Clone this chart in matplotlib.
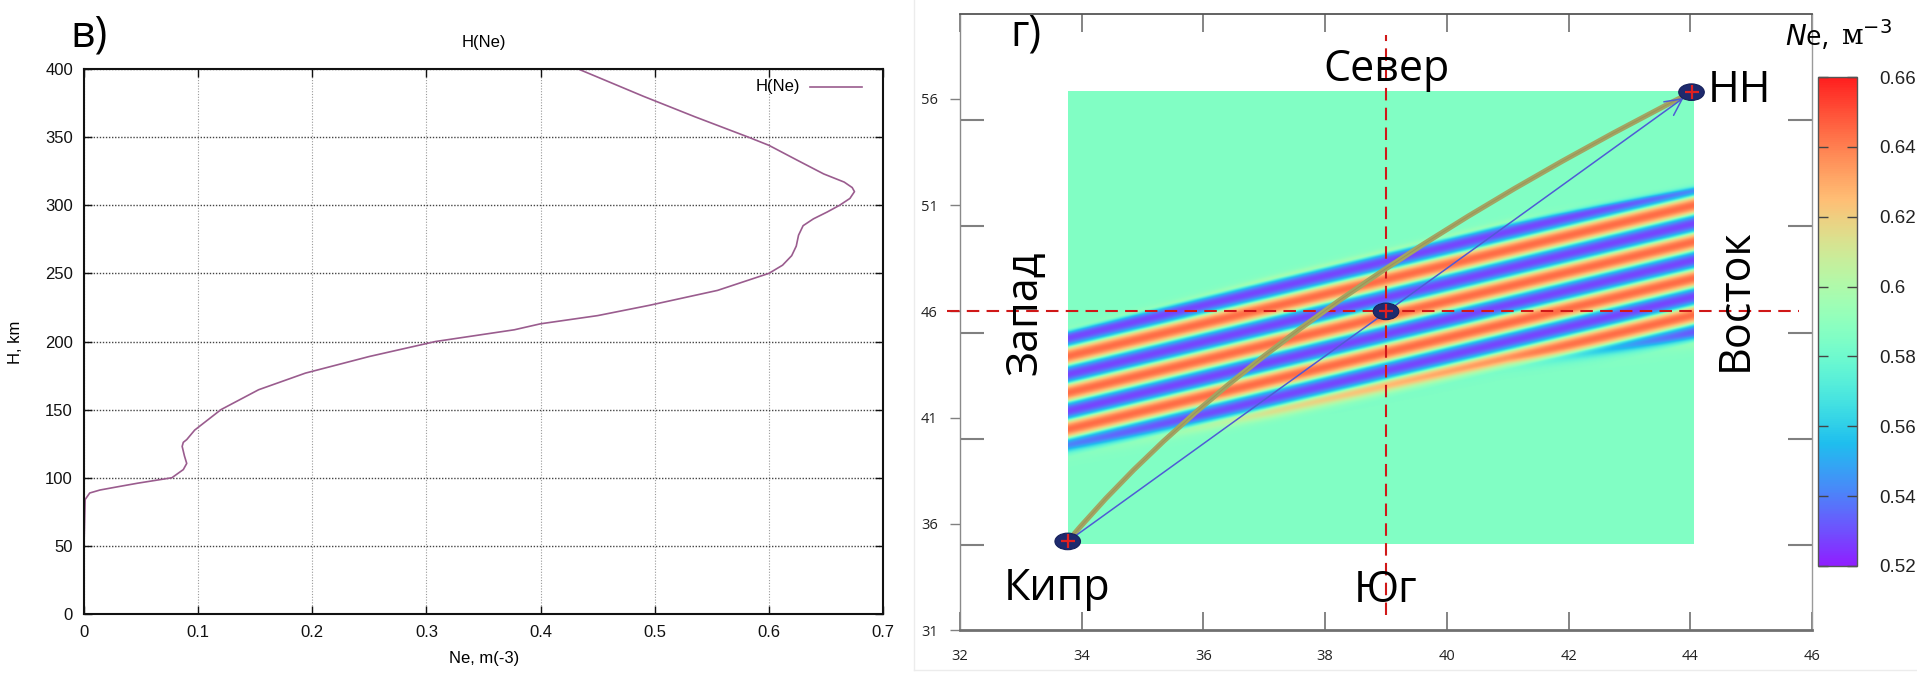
import numpy as np
import matplotlib
matplotlib.use('Agg')
import matplotlib.pyplot as plt
from matplotlib.colors import ListedColormap
from matplotlib.patches import Ellipse, PathPatch
from matplotlib.path import Path
from matplotlib.lines import Line2D
from matplotlib.ticker import FixedLocator

plt.rcParams['font.family'] = ['Open Sans', 'DejaVu Sans']
plt.rcParams['mathtext.fontset'] = 'dejavusans'

# ---------------- panel "в)" : H(Ne) profile ----------------
ne_profile = [0.0, 0.0, 0.001, 0.005, 0.014, 0.031, 0.047, 0.077, 0.082, 0.087,
              0.090, 0.088, 0.086, 0.087, 0.090, 0.097, 0.120, 0.153, 0.194, 0.250,
              0.308, 0.377, 0.400, 0.450, 0.495, 0.555, 0.600, 0.612, 0.620, 0.624,
              0.626, 0.630, 0.639, 0.651, 0.662, 0.671, 0.675, 0.673, 0.666, 0.648,
              0.625, 0.600, 0.582, 0.535, 0.490, 0.433]
h_profile = [0, 50, 84, 88.8, 91, 93.6, 96, 100, 103, 106,
             110.5, 116, 123, 126, 128, 135, 150, 164.6, 176.8, 189,
             200, 208.6, 213, 219, 226.5, 237.5, 250, 256, 263, 270,
             278, 285, 290, 295, 300, 305, 310, 313, 317, 323,
             333, 344, 350, 365, 380, 400]
ne_ticks = [0, 0.1, 0.2, 0.3, 0.4, 0.5, 0.6, 0.7]
ne_tick_labels = ['0', '0.1', '0.2', '0.3', '0.4', '0.5', '0.6', '0.7']
h_ticks = [0, 50, 100, 150, 200, 250, 300, 350, 400]

# ---------------- panel "г)" : Ne map ----------------
lon_ticks = [32, 34, 36, 38, 40, 42, 44, 46]
lat_label_ticks = [31, 36, 41, 46, 51, 56]
lat_inner_ticks = [35, 40, 45, 50, 55]
field_lon = [33.77, 44.05]
field_lat = [35.06, 56.36]
ne_background = 0.586
ne_amplitude = 0.058
stripe_slope = 0.69
stripe_period = 1.72
stripe_crest = 43.9
envelope_lon = [33.77, 37.1, 41.0, 44.05]
envelope_top = [45.1, 45.25, 45.2, 44.7]
envelope_bottom = [39.5, 38.9, 38.55, 37.55]
site_names = ['Кипр', 'НН']
site_lon = [33.77, 44.02]
site_lat = [35.17, 56.32]
center_lon = 39.0
center_lat = 46.0
# great-circle path: start, Bezier control point, end
path_lon = [33.77, 36.93, 44.02]
path_lat = [35.17, 45.98, 56.32]
cbar_ticks = [0.52, 0.54, 0.56, 0.58, 0.60, 0.62, 0.64, 0.66]
cbar_labels = ['0.52', '0.54', '0.56', '0.58', '0.6', '0.62', '0.64', '0.66']

W, H = 1917, 673
fig = plt.figure(figsize=(W / 100, H / 100), dpi=100)


def fx(px):
    return px / W


def fy(py):
    return 1 - py / H


# ================= left panel =================
axL = fig.add_axes([fx(84), fy(614), fx(883) - fx(84), fy(69) - fy(614)])
curve_color = '#9A5C8E'
axL.plot(ne_profile, h_profile, color=curve_color, lw=1.2)
axL.set_xlim(0, 0.7)
axL.set_ylim(0, 400)
axL.set_xticks(ne_ticks)
axL.set_xticklabels(ne_tick_labels)
axL.set_yticks(h_ticks)
for s in axL.spines.values():
    s.set_linewidth(1.5)
    s.set_color('#111111')
axL.tick_params(direction='in', length=6, width=1, top=True, right=True,
                labelsize=12, pad=8, colors='#111111')
for lab in axL.get_xticklabels() + axL.get_yticklabels():
    lab.set_family('Liberation Sans')
axL.xaxis.grid(True, color='#9a9a9a', lw=0.8, linestyle=(0, (1, 1.5)))
axL.yaxis.grid(True, color='#444444', lw=1.0, linestyle=(0, (1, 1.2)))
axL.set_axisbelow(True)
fig.text(fx(484), fy(659), 'Ne, m(-3)', ha='center', va='center',
         fontsize=12, family='Liberation Sans')
fig.text(fx(15), fy(342), 'H, km', ha='center', va='center', rotation=90,
         fontsize=12, family='Liberation Sans')
fig.text(fx(484), fy(43), 'H(Ne)', ha='center', va='center',
         fontsize=12, family='Liberation Sans')
fig.text(fx(800), fy(87), 'H(Ne)', ha='right', va='center',
         fontsize=12, family='Liberation Sans')
fig.add_artist(Line2D([fx(810), fx(862)], [fy(87), fy(87)], color=curve_color, lw=1.2))
fig.text(fx(70), fy(47), 'в)', ha='left', va='baseline', fontsize=31)

# faint frame of the right picture
fig.add_artist(Line2D([fx(914), fx(914)], [fy(0), fy(670)], color='#ececec', lw=1))
fig.add_artist(Line2D([fx(914), fx(1917)], [fy(670), fy(670)], color='#ececec', lw=1))

# ================= right panel =================
axR = fig.add_axes([fx(960), fy(630), fx(1812) - fx(960), fy(14) - fy(630)])
axR.set_xlim(32, 46)
axR.set_ylim(31, 60)

base = plt.get_cmap('rainbow')(np.linspace(0, 1, 256))
base[:, :3] = base[:, :3] * 0.88 + 0.12
cmap = ListedColormap(base)

gx = np.linspace(field_lon[0], field_lon[1], 500)
gy = np.linspace(field_lat[0], field_lat[1], 800)
GX, GY = np.meshgrid(gx, gy)
U = GY - stripe_slope * (GX - field_lon[0])
hi = np.interp(GX, envelope_lon, envelope_top)
lo = np.interp(GX, envelope_lon, envelope_bottom)
env = 0.5 * (1 + np.tanh((hi - U) / 0.13)) * 0.5 * (1 + np.tanh((U - lo) / 0.28))
wave = np.cos(2 * np.pi * (U - stripe_crest) / stripe_period)
wave = np.sign(wave) * np.abs(wave) ** 0.7
Z = ne_background + ne_amplitude * env * wave

im = axR.imshow(Z, extent=[field_lon[0], field_lon[1], field_lat[0], field_lat[1]],
                origin='lower', cmap=cmap, vmin=0.52, vmax=0.66, aspect='auto',
                interpolation='bilinear', zorder=1)

dash = (0, (6, 3.5))
axR.plot([center_lon, center_lon], [31.7, 59.0], color='#D01818', lw=1.5,
         linestyle=dash, zorder=3)
axR.plot([31.78, 45.78], [center_lat, center_lat], color='#D01818', lw=1.5,
         linestyle=dash, zorder=3, clip_on=False)

arc = Path(list(zip(path_lon, path_lat)), [Path.MOVETO, Path.CURVE3, Path.CURVE3])
axR.add_patch(PathPatch(arc, facecolor='none', edgecolor='#A2A562', lw=3.8,
                        capstyle='round', zorder=4))
axR.add_patch(PathPatch(arc, facecolor='none', edgecolor='#9A7A50', lw=0.7,
                        alpha=0.45, zorder=4))

axR.annotate('', xy=(site_lon[1], site_lat[1]), xytext=(site_lon[0], site_lat[0]),
             arrowprops=dict(arrowstyle='->,head_length=0.6,head_width=0.3',
                             color='#4F5BD5', lw=1.1, mutation_scale=20,
                             shrinkA=0, shrinkB=7), zorder=5)

pts_lon = site_lon + [center_lon]
pts_lat = site_lat + [center_lat]
for lo_, la_ in zip(pts_lon, pts_lat):
    axR.add_patch(Ellipse((lo_, la_), 0.42, 0.78, facecolor='#1E2A6E',
                          edgecolor='#15205A', lw=0.8, zorder=6))
    axR.plot([lo_], [la_], marker='+', color='#E02020', ms=10, mew=1.6, zorder=7)

txt_kw = dict(fontsize=31, color='black', zorder=8)
axR.text(39.0, 56.85, 'Север', ha='center', va='baseline', **txt_kw)
axR.text(33.6, 32.42, site_names[0], ha='center', va='baseline', **txt_kw)
axR.text(39.0, 32.32, 'Юг', ha='center', va='baseline', **txt_kw)
axR.text(44.29, 55.86, site_names[1], ha='left', va='baseline', **txt_kw)
axR.text(33.07, 45.95, 'Запад', ha='center', va='center', rotation=90, **txt_kw)
axR.text(44.75, 46.57, 'Восток', ha='center', va='center', rotation=90, **txt_kw)
axR.text(32.82, 58.5, 'г)', ha='left', va='baseline', **txt_kw)

axR.set_xticks(lon_ticks)
axR.set_yticks(lat_label_ticks)
axR.yaxis.set_minor_locator(FixedLocator(lat_inner_ticks))
axR.tick_params(axis='x', which='major', direction='in', length=13, width=1.2,
                top=True, bottom=True, color='#707070', labelsize=10.5,
                pad=14, labelcolor='#222222')
axR.tick_params(axis='y', which='major', direction='out', length=7, width=1,
                left=True, right=False, color='#808080', labelsize=10.5,
                pad=9, labelcolor='#222222')
axR.tick_params(axis='y', which='minor', direction='in', length=17, width=1.5,
                left=True, right=True, color='#808080')
axR.spines['left'].set_color('#8a8a8a')
axR.spines['left'].set_linewidth(1.0)
axR.spines['right'].set_color('#9a9a9a')
axR.spines['right'].set_linewidth(1.0)
axR.spines['top'].set_color('#555555')
axR.spines['top'].set_linewidth(1.3)
axR.spines['bottom'].set_color('#707070')
axR.spines['bottom'].set_linewidth(2.0)

# colorbar
cax = fig.add_axes([fx(1818), fy(566), fx(1857) - fx(1818), fy(77) - fy(566)])
cb = fig.colorbar(im, cax=cax)
cb.set_ticks(cbar_ticks)
cb.set_ticklabels(cbar_labels)
cb.outline.set_edgecolor('#555555')
cb.outline.set_linewidth(1.0)
cax.tick_params(direction='in', length=7, width=1, left=True, right=True,
                color='#444444', labelsize=13.5, pad=16, labelcolor='#222222')
for lab in cax.get_yticklabels():
    lab.set_family('Liberation Sans')
fig.text(fx(1785), fy(45), r'$\mathit{N}$e,', ha='left', va='baseline',
         fontsize=20)
fig.text(fx(1841), fy(45), r'м$^{-3}$', ha='left', va='baseline',
         fontsize=20, family='DejaVu Serif')

fig.savefig('out.png', dpi=100)
